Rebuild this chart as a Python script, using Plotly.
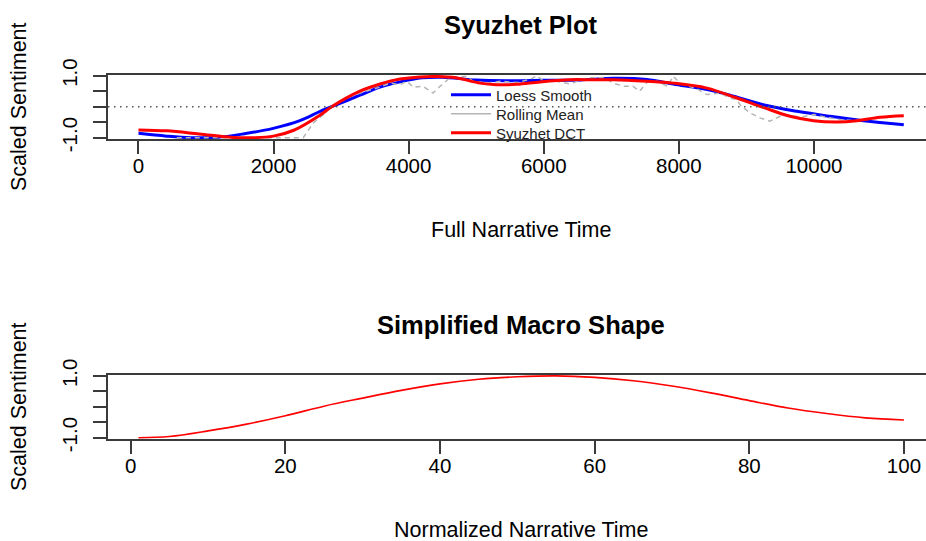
import plotly.graph_objects as go

# ---------------- data ----------------
# Full narrative (sentence index) series, scaled to [-1, 1]
loess_x = [1, 417, 775, 1160, 1550, 1995, 2390, 2690, 2862, 3280, 3577, 3873,
           4200, 4500, 5000, 5500, 6000, 6537, 7031, 7527, 7917, 8416, 8758,
           9248, 9749, 10237, 10730, 11330]
loess_y = [-0.86, -0.95, -1.0, -0.99, -0.88, -0.70, -0.45, -0.15, 0.0, 0.37,
           0.63, 0.80, 0.93, 0.95, 0.86, 0.84, 0.85, 0.86, 0.92, 0.88, 0.73,
           0.55, 0.37, 0.06, -0.15, -0.31, -0.45, -0.58]

rolling_x = [568, 1200, 2000, 2440, 2586, 2736, 2881, 3087, 3281, 3530, 3730,
             3873, 3976, 4066, 4213, 4362, 4466, 4612, 4861, 4955, 5150, 5354,
             5600, 5797, 5900, 6000, 6195, 6390, 6640, 6890, 7031, 7180, 7320,
             7420, 7527, 7680, 7830, 7917, 8020, 8270, 8416, 8610, 8758, 8860,
             8905, 9053, 9200, 9348, 9500, 9646, 9793, 10000, 10200, 10400,
             10600, 10770]
rolling_y = [-1.0, -1.0, -1.0, -1.0, -0.53, -0.26, 0.06, 0.28, 0.44, 0.60, 0.76,
             0.71, 0.82, 0.63, 0.66, 0.44, 0.66, 0.93, 0.98, 0.82, 0.76, 0.82,
             0.78, 0.88, 1.0, 0.82, 0.82, 0.73, 0.93, 0.94, 0.76, 0.66, 0.66,
             0.50, 0.78, 0.82, 0.66, 0.98, 0.76, 0.57, 0.39, 0.44, 0.28, 0.23,
             0.06, -0.20, -0.36, -0.47, -0.31, -0.28, -0.34, -0.25, -0.35, -0.42,
             -0.45, -0.40]

dct_x = [1, 420, 900, 1400, 1700, 2000, 2300, 2690, 2862, 3280, 3577, 3873,
         4170, 4420, 4700, 5060, 5300, 5600, 5946, 6390, 6686, 7031, 7527,
         7917, 8416, 8860, 9248, 9646, 9993, 10340, 10636, 10978, 11330]
dct_y = [-0.75, -0.78, -0.88, -0.99, -1.0, -0.95, -0.76, -0.27, 0.0, 0.50,
         0.73, 0.89, 0.96, 0.97, 0.93, 0.76, 0.71, 0.72, 0.80, 0.87, 0.87,
         0.87, 0.82, 0.76, 0.60, 0.28, -0.02, -0.31, -0.45, -0.49, -0.45,
         -0.34, -0.29]

# Normalized (0-100) macro shape
macro_x = [1, 5, 10, 15, 20, 25, 30, 35, 40, 45, 50, 55, 60, 65, 70, 75, 80,
           85, 90, 95, 100]
macro_y = [-1.0, -0.96, -0.78, -0.56, -0.29, 0.02, 0.28, 0.53, 0.74, 0.89,
           0.97, 1.0, 0.95, 0.84, 0.67, 0.45, 0.20, -0.04, -0.22, -0.36, -0.43]

top_ticks = [0, 2000, 4000, 6000, 8000, 10000]
bottom_ticks = [0, 20, 40, 60, 80, 100]
y_ticks = [-1.0, -0.5, 0.0, 0.5, 1.0]
y_tick_text = ["-1.0", "", "", "", "1.0"]
legend_names = ["Loess Smooth", "Rolling Mean", "Syuzhet DCT"]

# ---------------- layout helpers ----------------
W, H = 926, 541
ML = 108                      # left margin; plot area runs to the right edge
FONT = "Liberation Sans, Arial, Helvetica, sans-serif"
INK = "#000000"
AXIS = "#3a3a3a"


def py(px):
    """Pixel row (from top) -> paper y."""
    return 1 - px / H


def px_x(px):
    """Pixel column (from left) -> paper x (paper starts at the left margin)."""
    return (px - ML) / (W - ML)


fig = go.Figure()

# top panel
fig.add_trace(go.Scatter(x=loess_x, y=loess_y, mode="lines", line_shape="spline",
                         line=dict(color="#0000ff", width=3), showlegend=False,
                         xaxis="x", yaxis="y"))
fig.add_trace(go.Scatter(x=rolling_x, y=rolling_y, mode="lines",
                         line=dict(color="#b4b4b4", width=1.5, dash="5px,4px"),
                         showlegend=False, xaxis="x", yaxis="y"))
fig.add_trace(go.Scatter(x=dct_x, y=dct_y, mode="lines", line_shape="spline",
                         line=dict(color="#ff0000", width=3), showlegend=False,
                         xaxis="x", yaxis="y"))

# legend keys: one small legend per row so the rows sit at exact heights
legend_ids = ["legend", "legend2", "legend3"]
legend_rows = [95, 114, 133]
for name, color, width, lid in zip(legend_names, ["#0000ff", "#b4b4b4", "#ff0000"],
                                   [3, 1.5, 3], legend_ids):
    fig.add_trace(go.Scatter(x=[None], y=[None], mode="lines", name=name,
                             line=dict(color=color, width=width), legend=lid,
                             xaxis="x", yaxis="y"))

# bottom panel
fig.add_trace(go.Scatter(x=macro_x, y=macro_y, mode="lines", line_shape="spline",
                         line=dict(color="#ff0000", width=1.6), showlegend=False,
                         xaxis="x2", yaxis="y2"))

axis_common = dict(showgrid=False, zeroline=False, showline=True, linecolor=AXIS,
                   linewidth=1.6, ticks="outside", ticklen=13, tickwidth=1.5,
                   tickcolor=AXIS, tickfont=dict(family=FONT, size=20.5, color=INK))

legend_style = dict(x=px_x(446), xanchor="left", yanchor="middle",
                    bgcolor="rgba(0,0,0,0)", borderwidth=0,
                    font=dict(family=FONT, size=15, color="#222222"), itemwidth=40)

fig.update_layout(
    width=W, height=H,
    margin=dict(l=ML, r=0, t=0, b=0, autoexpand=False),
    paper_bgcolor="white", plot_bgcolor="white",
    showlegend=True,
    legend=dict(y=py(legend_rows[0]), **legend_style),
    legend2=dict(y=py(legend_rows[1]), **legend_style),
    legend3=dict(y=py(legend_rows[2]), **legend_style),
    xaxis=dict(domain=[0, 1], range=[-450, 11659], anchor="y", mirror=True,
               tickvals=top_ticks, ticktext=[str(v) for v in top_ticks],
               ticklabelstandoff=-6, **axis_common),
    yaxis=dict(domain=[py(139.3), py(74.7)], range=[-1.052, 1.032], anchor="x",
               tickvals=y_ticks, ticktext=y_tick_text, tickangle=-90,
               ticklabelstandoff=8, **axis_common),
    xaxis2=dict(domain=[0, 1], range=[-2.94, 102.85], anchor="y2", mirror=True,
                tickvals=bottom_ticks, ticktext=[str(v) for v in bottom_ticks],
                ticklabelstandoff=-6, **axis_common),
    yaxis2=dict(domain=[py(439.3), py(375)], range=[-1.052, 1.028], anchor="x2",
                tickvals=y_ticks, ticktext=y_tick_text, tickangle=-90,
                ticklabelstandoff=8, **axis_common),
    shapes=[
        dict(type="line", xref="x domain", yref="y", x0=0, x1=1, y0=0, y1=0,
             line=dict(color="#555555", width=1.5, dash="1.5px,4.5px")),
    ],
)

texts = [
    ("Syuzhet Plot", 521, 25, 25.5, True, 0),
    ("Full Narrative Time", 521, 230, 21.5, False, 0),
    ("Scaled Sentiment", 19, 107, 21.5, False, -90),
    ("Simplified Macro Shape", 521, 325, 25.5, True, 0),
    ("Normalized Narrative Time", 521, 530, 21.5, False, 0),
    ("Scaled Sentiment", 19, 407, 21.5, False, -90),
]
for text, x, y, size, bold, angle in texts:
    fig.add_annotation(text=f"<b>{text}</b>" if bold else text,
                       xref="paper", yref="paper", x=px_x(x), y=py(y),
                       xanchor="center", yanchor="middle", showarrow=False,
                       textangle=angle,
                       font=dict(family=FONT, size=size, color=INK))

fig.write_html("out.html")
